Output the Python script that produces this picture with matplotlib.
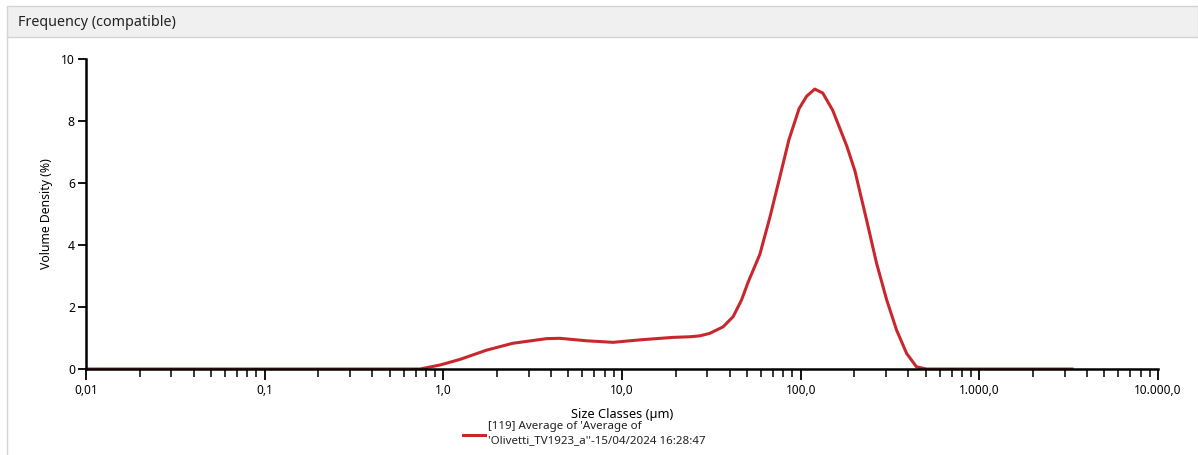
import matplotlib.pyplot as plt
import matplotlib.ticker as mticker
from matplotlib.patches import Rectangle
from matplotlib.lines import Line2D
import numpy as np

plt.rcParams['font.family'] = ['Noto Sans', 'DejaVu Sans']

# size classes (um) and volume density (%)
sizes = [0.01, 0.1, 0.5, 0.74, 0.96, 1.24, 1.75, 2.45, 3.79, 4.49, 6.34, 8.9,
         12.6, 19.3, 24.0, 27.3, 31.0, 36.8, 41.9, 46.7, 50.8, 59.1, 67.3,
         76.5, 86.0, 98.0, 108, 120, 133, 151, 181, 201, 234, 266, 303, 344, 392,
         445, 506, 600, 1000, 3300]
density = [0.0, 0.0, 0.0, 0.0, 0.13, 0.31, 0.61, 0.83, 0.98, 0.99, 0.91, 0.86,
           0.94, 1.02, 1.04, 1.07, 1.15, 1.36, 1.69, 2.23, 2.8, 3.7, 4.9,
           6.2, 7.4, 8.4, 8.8, 9.03, 8.9, 8.35, 7.2, 6.4, 4.8, 3.41, 2.23, 1.26, 0.5,
           0.07, 0.0, 0.0, 0.0, 0.0]

x_ticks = [0.01, 0.1, 1, 10, 100, 1000, 10000]
x_labels = ['0,01', '0,1', '1,0', '10,0', '100,0', '1.000,0', '10.000,0']
y_ticks = [0, 2, 4, 6, 8, 10]

series_name = "[119] Average of 'Average of\n'Olivetti_TV1923_a''-15/04/2024 16:28:47"

W, H = 1198, 455
fig = plt.figure(figsize=(W / 100, H / 100), dpi=100)

# panel header bar and frame
fig.patches.append(Rectangle((7 / W, 1 - 37 / H), 1 - 7 / W, 31 / H, transform=fig.transFigure,
                             facecolor='#f0f0f0', edgecolor='#d4d4d4', linewidth=1))
fig.lines.append(Line2D([7 / W, 7 / W], [0, 1 - 37 / H], transform=fig.transFigure,
                        color='#d4d4d4', linewidth=1))
fig.text(18 / W, 1 - 23 / H, 'Frequency (compatible)', fontsize=10.3, va='center', ha='left',
         color='#222222')

ax = fig.add_axes([86 / W, 1 - 369 / H, (1158 - 86) / W, (369 - 59) / H])
ax.plot(sizes, density, color='#c8282d', linewidth=2.2, solid_joinstyle='round')

ax.set_xscale('log')
ax.set_xlim(0.01, 10000)
ax.set_ylim(0, 10)

ax.set_xticks(x_ticks)
ax.set_xticklabels(x_labels)
ax.xaxis.set_minor_locator(mticker.LogLocator(base=10, subs=np.arange(2, 10)))
ax.xaxis.set_minor_formatter(mticker.NullFormatter())
ax.set_yticks(y_ticks)

ax.tick_params(axis='x', which='major', length=8, width=1.3, labelsize=8.5, pad=3)
ax.tick_params(axis='x', which='minor', length=6, width=1.1)
ax.tick_params(axis='y', length=6, width=1.3, labelsize=8.8, pad=2)

for side in ['top', 'right']:
    ax.spines[side].set_visible(False)
for side in ['left', 'bottom']:
    ax.spines[side].set_linewidth(1.8)

ax.set_ylabel('Volume Density (%)', fontsize=8.8, labelpad=6)
ax.set_xlabel('Size Classes (µm)', fontsize=9.2, labelpad=8)

# legend below axis label
fig.lines.append(Line2D([463 / W, 485 / W], [1 - 435 / H, 1 - 435 / H], transform=fig.transFigure,
                        color='#c8282d', linewidth=2.2))
fig.text(488 / W, 1 - 433.5 / H, series_name, fontsize=8.3, va='center', ha='left',
         linespacing=1.5, color='#222222')

fig.savefig('out.png', dpi=100)
